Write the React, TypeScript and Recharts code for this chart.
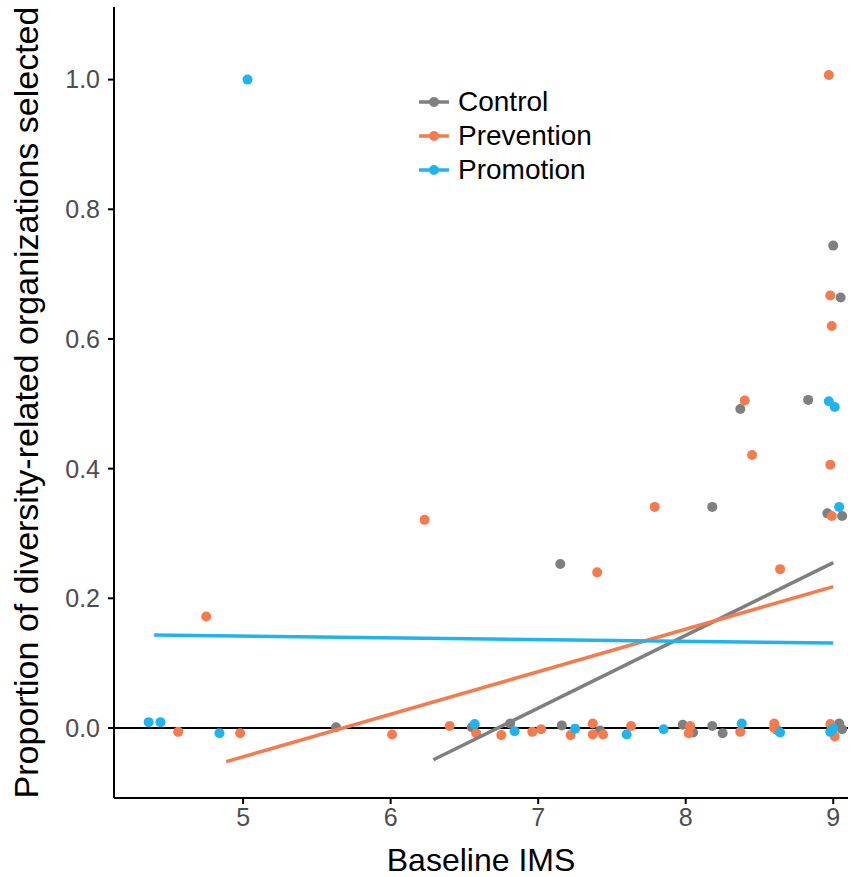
import { ComposedChart, Scatter, XAxis, YAxis, ReferenceLine } from "recharts";

const groups = ["Control", "Prevention", "Promotion"];
const colors: Record<string, string> = {
  Control: "#7f7f7f",
  Prevention: "#f47b4d",
  Promotion: "#1fb4ee",
};

const controlPoints = [
  { x: 5.63, y: 0.001 }, { x: 6.55, y: 0.001 }, { x: 6.81, y: 0.007 }, { x: 7.16, y: 0.004 },
  { x: 7.42, y: -0.004 }, { x: 7.98, y: 0.005 }, { x: 8.05, y: -0.007 }, { x: 8.18, y: 0.003 },
  { x: 8.25, y: -0.008 }, { x: 8.62, y: -0.003 }, { x: 9.04, y: 0.007 }, { x: 9.06, y: -0.002 },
  { x: 7.15, y: 0.253 }, { x: 8.18, y: 0.341 }, { x: 8.37, y: 0.492 }, { x: 8.83, y: 0.506 },
  { x: 9.0, y: 0.744 }, { x: 9.05, y: 0.664 }, { x: 8.96, y: 0.331 }, { x: 9.06, y: 0.327 },
];

const preventionPoints = [
  { x: 4.56, y: -0.006 }, { x: 4.98, y: -0.008 }, { x: 6.01, y: -0.01 }, { x: 6.4, y: 0.003 },
  { x: 6.58, y: -0.008 }, { x: 6.75, y: -0.011 }, { x: 6.96, y: -0.006 }, { x: 7.02, y: -0.002 },
  { x: 7.22, y: -0.011 }, { x: 7.37, y: 0.007 }, { x: 7.37, y: -0.01 }, { x: 7.44, y: -0.01 },
  { x: 7.63, y: 0.003 }, { x: 8.03, y: 0.003 }, { x: 8.02, y: -0.008 }, { x: 8.37, y: -0.006 },
  { x: 8.6, y: 0.007 }, { x: 8.6, y: 0.0 }, { x: 8.98, y: 0.006 }, { x: 9.01, y: -0.013 },
  { x: 4.75, y: 0.172 }, { x: 6.23, y: 0.321 }, { x: 7.4, y: 0.24 }, { x: 7.79, y: 0.341 },
  { x: 8.64, y: 0.245 }, { x: 8.4, y: 0.505 }, { x: 8.45, y: 0.421 }, { x: 8.98, y: 0.406 },
  { x: 8.99, y: 0.62 }, { x: 8.98, y: 0.667 }, { x: 8.97, y: 1.007 }, { x: 8.99, y: 0.327 },
];

const promotionPoints = [
  { x: 4.36, y: 0.009 }, { x: 4.44, y: 0.009 }, { x: 4.84, y: -0.008 }, { x: 6.57, y: 0.006 },
  { x: 6.84, y: -0.005 }, { x: 7.25, y: -0.001 }, { x: 7.6, y: -0.01 }, { x: 7.85, y: -0.002 },
  { x: 8.38, y: 0.007 }, { x: 8.64, y: -0.007 }, { x: 8.98, y: -0.006 }, { x: 9.0, y: -0.001 },
  { x: 5.03, y: 1.0 }, { x: 8.97, y: 0.504 }, { x: 9.01, y: 0.495 }, { x: 9.04, y: 0.341 },
];

// end points of the linear fits
const controlFit = [{ x: 6.29, y: -0.049 }, { x: 9.0, y: 0.255 }];
const preventionFit = [{ x: 4.885, y: -0.052 }, { x: 9.0, y: 0.218 }];
const promotionFit = [{ x: 4.397, y: 0.1435 }, { x: 9.0, y: 0.131 }];

const xTicks = [5, 6, 7, 8, 9];
const yTicks = [0, 0.2, 0.4, 0.6, 0.8, 1.0];

const font = "'Liberation Sans', Arial, sans-serif";

const dot = (color: string) => (props: any) => (
  <circle cx={props.cx} cy={props.cy} r={5} fill={color} />
);
const noDot = () => <g />;

function LegendBox() {
  return (
    <div style={{ position: "absolute", left: 418, top: 85, fontFamily: font }}>
      {groups.map((g) => (
        <div key={g} style={{ display: "flex", alignItems: "center", height: 34 }}>
          <svg width={36} height={14} style={{ marginRight: 4 }}>
            <line x1={1} y1={7} x2={31} y2={7} stroke={colors[g]} strokeWidth={3.5} />
            <circle cx={16} cy={7} r={5} fill={colors[g]} />
          </svg>
          <span style={{ fontSize: 28, lineHeight: "34px", color: "#000" }}>{g}</span>
        </div>
      ))}
    </div>
  );
}

export default function App() {
  return (
    <div style={{ position: "absolute", left: 0, top: 0, width: 867, height: 877, background: "#fff" }}>
      <ComposedChart width={867} height={877} margin={{ top: 7, right: 19, bottom: 0, left: 0 }}>
        <XAxis
          type="number"
          dataKey="x"
          domain={[4.125, 9.1]}
          ticks={xTicks}
          allowDataOverflow
          height={79}
          axisLine={{ stroke: "#000", strokeWidth: 2 }}
          tickLine={{ stroke: "#000", strokeWidth: 2 }}
          tickSize={6}
          tickMargin={4}
          tick={{ fill: "#4d4d4d", fontSize: 25, fontFamily: font }}
          label={{
            value: "Baseline IMS",
            position: "insideBottom",
            offset: 6,
            style: { fill: "#000", fontSize: 32, fontFamily: font },
          }}
        />
        <YAxis
          type="number"
          dataKey="y"
          domain={[-0.108, 1.112]}
          ticks={yTicks}
          allowDataOverflow
          width={114}
          axisLine={{ stroke: "#000", strokeWidth: 2 }}
          tickLine={{ stroke: "#000", strokeWidth: 2 }}
          tickSize={6}
          tickMargin={8}
          tickFormatter={(v: number) => v.toFixed(1)}
          tick={{ fill: "#4d4d4d", fontSize: 25, fontFamily: font }}
          label={{
            value: "Proportion of diversity-related organizations selected",
            angle: -90,
            position: "insideLeft",
            offset: 26,
            style: { textAnchor: "middle", fill: "#000", fontSize: 34, fontFamily: font },
          }}
        />
        <ReferenceLine y={0} stroke="#000" strokeWidth={2} ifOverflow="extendDomain" />
        <Scatter name="Control" data={controlPoints} fill={colors.Control} shape={dot(colors.Control)} isAnimationActive={false} />
        <Scatter name="Prevention" data={preventionPoints} fill={colors.Prevention} shape={dot(colors.Prevention)} isAnimationActive={false} />
        <Scatter name="Promotion" data={promotionPoints} fill={colors.Promotion} shape={dot(colors.Promotion)} isAnimationActive={false} />
        <Scatter data={controlFit} line={{ stroke: colors.Control, strokeWidth: 3.5 }} shape={noDot} isAnimationActive={false} />
        <Scatter data={preventionFit} line={{ stroke: colors.Prevention, strokeWidth: 3.5 }} shape={noDot} isAnimationActive={false} />
        <Scatter data={promotionFit} line={{ stroke: colors.Promotion, strokeWidth: 3.5 }} shape={noDot} isAnimationActive={false} />
      </ComposedChart>
      <LegendBox />
    </div>
  );
}
